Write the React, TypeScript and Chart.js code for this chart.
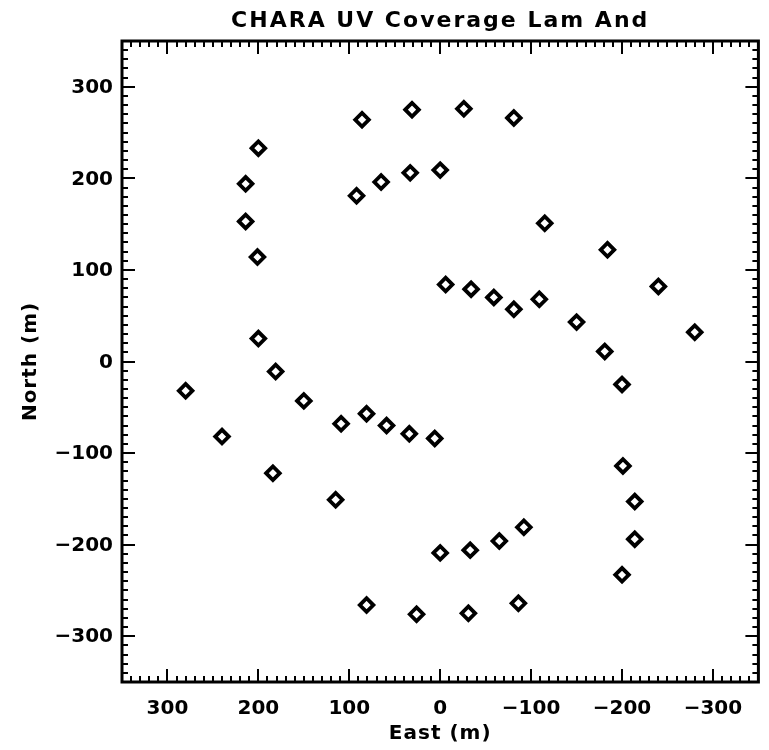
import React, { useEffect, useRef } from "react";
import { Chart, registerables } from "chart.js";

Chart.register(...registerables);

const chartTitle = "CHARA UV Coverage Lam And";
const xAxisTitle = "East (m)";
const yAxisTitle = "North (m)";

const eastM = [
  200, 214, 214, 201, -200, -214, -214, -201,
  86, 31, -26, -81, -86, -31, 26, 81,
  92, 65, 33, 0, -92, -65, -33, 0,
  -6, -34, -59, -81, -109, -150, -181, -200, -240, -280, -184, -115,
  6, 34, 59, 81, 109, 150, 181, 200, 240, 280, 184, 115,
];
const northM = [
  233, 194, 153, 114, -233, -194, -153, -114,
  264, 275, 276, 266, -264, -275, -276, -266,
  181, 196, 206, 209, -181, -196, -206, -209,
  84, 79, 70, 57, 68, 43, 11, -25, 82, 32, 122, 151,
  -84, -79, -70, -57, -68, -43, -11, 25, -82, -32, -122, -151,
];

const xMajorTicks = [300, 200, 100, 0, -100, -200, -300];
const yMajorTicks = [-300, -200, -100, 0, 100, 200, 300];
const axisMin = -350;
const axisMax = 350;
const minorStep = 10;

const fmt = (v: number) => (v < 0 ? "\u2212" + Math.abs(v) : String(v));

const FONT = '"DejaVu Sans", "Liberation Sans", sans-serif';

const idlAxesPlugin = {
  id: "idlAxes",
  afterDraw(chart: any) {
    const ctx = chart.ctx as CanvasRenderingContext2D;
    const { left, right, top, bottom } = chart.chartArea;
    const xs = chart.scales.x;
    const ys = chart.scales.y;
    ctx.save();
    ctx.strokeStyle = "#000";
    ctx.fillStyle = "#000";
    // ticks
    ctx.lineWidth = 2;
    ctx.beginPath();
    for (let v = axisMin + minorStep; v < axisMax; v += minorStep) {
      const major = v % 100 === 0;
      const px = Math.round(xs.getPixelForValue(v));
      const lenX = major ? 13 : 6;
      ctx.moveTo(px, bottom);
      ctx.lineTo(px, bottom - lenX);
      ctx.moveTo(px, top);
      ctx.lineTo(px, top + lenX);
      const py = Math.round(ys.getPixelForValue(v));
      const lenY = major ? 13 : 6;
      ctx.moveTo(left, py);
      ctx.lineTo(left + lenY, py);
      ctx.moveTo(right, py);
      ctx.lineTo(right - lenY, py);
    }
    ctx.stroke();
    // frame
    ctx.lineWidth = 3;
    ctx.strokeRect(left, top, right - left, bottom - top);

    // tick labels
    ctx.font = "bold 20px " + FONT;
    ctx.textBaseline = "alphabetic";
    ctx.textAlign = "center";
    (ctx as any).letterSpacing = "0px";
    for (const v of xMajorTicks) {
      const px = xs.getPixelForValue(v);
      ctx.fillText(fmt(v), px, bottom + 32);
    }
    ctx.textAlign = "right";
    ctx.textBaseline = "middle";
    for (const v of yMajorTicks) {
      const py = ys.getPixelForValue(v);
      ctx.fillText(fmt(v), left - 9, py + 1);
    }
    // titles
    ctx.textBaseline = "alphabetic";
    ctx.textAlign = "center";
    (ctx as any).letterSpacing = "1px";
    ctx.font = "bold 20px " + FONT;
    ctx.fillText(xAxisTitle, (left + right) / 2, 739);
    ctx.save();
    ctx.translate(36, (top + bottom) / 2);
    ctx.rotate(-Math.PI / 2);
    ctx.fillText(yAxisTitle, 0, 0);
    ctx.restore();
    (ctx as any).letterSpacing = "2px";
    ctx.font = "bold 22px " + FONT;
    ctx.fillText(chartTitle, (left + right) / 2, 27);
    ctx.restore();
  },
};

export default function App() {
  const ref = useRef<HTMLCanvasElement | null>(null);
  useEffect(() => {
    document.body.style.margin = "0";
    document.body.style.overflow = "hidden";
    const canvas = ref.current!;
    const points = eastM.map((x, i) => ({ x, y: northM[i] }));
    const chart = new Chart(canvas, {
      type: "scatter",
      data: {
        datasets: [
          {
            data: points,
            pointStyle: "rectRot",
            pointRadius: 6.8,
            pointBorderWidth: 3.8,
            pointBackgroundColor: "#fff",
            pointBorderColor: "#000",
            showLine: false,
          },
        ],
      },
      options: {
        responsive: false,
        animation: false,
        devicePixelRatio: 1,
        layout: { padding: { left: 122, right: 7, top: 41, bottom: 68 } },
        plugins: {
          legend: { display: false },
          tooltip: { enabled: false },
          title: { display: false },
        },
        scales: {
          x: { type: "linear", min: axisMin, max: axisMax, reverse: true, display: false },
          y: { type: "linear", min: axisMin, max: axisMax, display: false },
        },
      },
      plugins: [idlAxesPlugin],
    });
    return () => chart.destroy();
  }, []);
  return <canvas ref={ref} width={769} height={750} style={{ display: "block" }} />;
}
